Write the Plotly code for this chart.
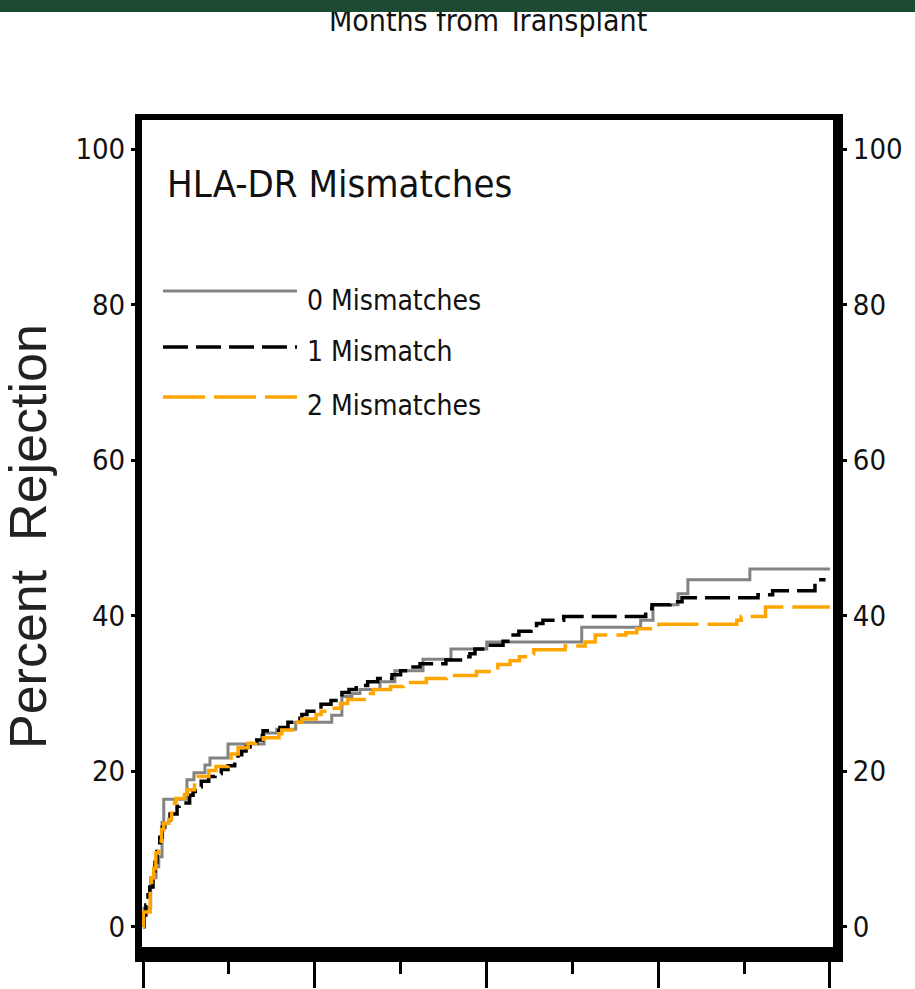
import plotly.graph_objects as go

# ---------------- data ----------------
months_0 = [0, 0.07, 0.54, 0.91, 1.1, 1.33, 1.45, 3.07, 3.56, 4.33, 4.68, 5.94, 8.46, 9.35, 10.67,
            13.19, 13.9, 14.6, 15.16, 16.56, 17.6, 19.57, 21.52, 24.02, 30.66, 34.78, 35.64, 37.39,
            38.08, 42.41, 48.0]
pct_0 = [0, 2.4, 6.3, 7.7, 9.0, 13.4, 16.4, 18.9, 19.8, 20.8, 21.7, 23.5, 24.9, 25.4, 26.3,
         27.2, 29.6, 30.0, 30.5, 31.5, 32.9, 34.4, 35.7, 36.6, 38.5, 39.4, 41.4, 42.8,
         44.6, 46.0, 46.0]

months_1 = [0, 0.07, 0.2, 0.35, 0.47, 0.7, 0.84, 0.98, 1.17, 1.35, 1.52, 1.89, 2.38, 2.52, 3.26,
            3.5, 3.65, 4.07, 4.59, 5.03, 5.47, 5.94, 6.41, 6.64, 6.9, 7.2, 7.48, 7.95, 8.34, 8.39,
            9.57, 10.13, 10.97, 11.1, 11.46, 12.44, 13.14, 13.9, 14.4, 14.9, 15.7, 16.4, 17.4, 18.0,
            18.7, 19.36, 21.17, 22.36, 22.85, 23.2, 24.1, 25.16, 25.65, 26.27, 27.11, 27.5, 27.95,
            29.4, 35.13, 35.57, 36.83, 37.67, 42.98, 44.0, 46.96, 47.7]
pct_1 = [0, 1.5, 2.8, 4.1, 5.1, 6.3, 8.3, 10.1, 11.5, 12.8, 13.3, 14.5, 15.5, 15.9, 16.9,
         17.4, 18.0, 18.7, 19.3, 19.7, 20.2, 20.7, 21.4, 22.1, 22.6, 23.1, 23.6, 24.0, 24.6, 25.2,
         25.6, 26.3, 26.8, 27.3, 27.7, 28.6, 29.1, 30.1, 30.5, 31.0, 31.5, 31.9, 32.4, 32.9,
         33.4, 33.8, 34.3, 34.7, 35.1, 35.7, 36.2, 36.7, 37.5, 38.0, 38.5, 39.0, 39.4,
         39.9, 40.9, 41.4, 41.8, 42.3, 42.7, 43.2, 44.6, 44.6]

months_2 = [0, 0.03, 0.5, 0.6, 0.75, 0.9, 1.1, 1.3, 1.45, 1.8, 2.0, 2.2, 2.3, 2.9, 3.1, 3.6, 3.85,
            4.6, 5.1, 5.95, 6.15, 6.65, 7.35, 7.9, 8.4, 9.5, 9.7, 10.8, 11.1, 12.1, 12.45, 13.15,
            13.8, 14.3, 15.6, 16.1, 17.3, 18.2, 19.8, 21.2, 23.3, 24.8, 25.65, 26.3, 27.0, 27.3,
            29.5, 30.9, 31.6, 33.75, 34.5, 36.05, 41.5, 41.8, 43.5, 48.0]
pct_2 = [0, 1.9, 5.0, 6.3, 7.5, 9.5, 11.0, 12.5, 13.3, 13.8, 14.9, 15.9, 16.5, 17.0, 17.6, 18.9, 19.3,
         20.1, 20.6, 21.4, 22.2, 23.0, 23.6, 24.1, 24.3, 24.8, 25.3, 26.3, 26.7, 27.3, 27.7, 28.1,
         28.7, 29.2, 30.0, 30.5, 30.9, 31.4, 31.9, 32.3, 32.8, 33.7, 34.2, 34.7, 35.1, 35.6,
         36.1, 36.6, 37.5, 37.8, 38.3, 38.9, 39.4, 39.9, 41.1, 41.1]

series_names = ["0 Mismatches", "1 Mismatch", "2 Mismatches"]
y_ticks = [0, 20, 40, 60, 80, 100]
x_major = [0, 12, 24, 36, 48]
x_minor = [6, 18, 30, 42]

# ---------------- styling ----------------
NARROW = "Liberation Sans Narrow, Arial Narrow, DejaVu Sans Condensed, Liberation Sans, sans-serif"
REG = "Liberation Sans, Arial, sans-serif"
colors = ["#838383", "#000000", "#FFA500"]
dashes = ["solid", "25px,8px", "42px,9px"]
widths = [3, 3.5, 3.5]

W, H = 915, 989
L, R, T, B = 142, 833, 120, 947   # inner plot area in pixels
PW, PH = R - L, B - T


def px(x):
    return (x - L) / PW


def py(y):
    return (B - y) / PH


fig = go.Figure()
for xs, ys, c, d, w, n in zip([months_0, months_1, months_2], [pct_0, pct_1, pct_2],
                              colors, dashes, widths, series_names):
    fig.add_trace(go.Scatter(x=xs, y=ys, mode="lines", line=dict(color=c, dash=d, width=w, shape="hv"),
                             name=n, showlegend=False, hoverinfo="skip"))

# placeholder so the right axis is drawn
fig.add_trace(go.Scatter(x=[months_0[0]], y=[pct_0[0]], yaxis="y2", mode="markers",
                         marker=dict(opacity=0), showlegend=False, hoverinfo="skip"))

shapes = []
# thick frame
for (x0, x1, y0, y1) in [(135, 142, 114, 962), (135, 843, 114, 120), (833, 843, 114, 962), (135, 843, 947, 962)]:
    shapes.append(dict(type="rect", xref="paper", yref="paper", x0=px(x0), x1=px(x1), y0=py(y1), y1=py(y0),
                       fillcolor="black", line=dict(width=0), layer="above"))

# legend samples
leg_y = [81.74, 74.54, 68.11]
leg_text_y = [80.58, 73.98, 66.98]
for c, d, w, yy in zip(colors, dashes, widths, leg_y):
    shapes.append(dict(type="line", xref="x", yref="y", x0=1.4, x1=10.76, y0=yy, y1=yy,
                       line=dict(color=c, dash=d, width=w)))

annotations = []
annotations.append(dict(text="HLA-DR Mismatches", x=1.54, y=95.56, xref="x", yref="y", xanchor="left",
                        yanchor="middle", showarrow=False, font=dict(family=NARROW, size=38, color="#111")))
for n, yy in zip(series_names, leg_text_y):
    annotations.append(dict(text=n, x=11.32, y=yy, xref="x", yref="y", xanchor="left", yanchor="middle",
                            showarrow=False, font=dict(family=NARROW, size=28, color="#111")))
annotations.append(dict(text="Percent\u00a0\u00a0Rejection", textangle=-90, x=px(28), y=py(537),
                        xref="paper", yref="paper", xanchor="center", yanchor="middle", showarrow=False,
                        font=dict(family=REG, size=52, color="#222")))
# clipped axis title from the slide above
annotations.append(dict(text="Months from Transplant", x=px(487.5), y=py(40), xref="paper", yref="paper",
                        xanchor="center", yanchor="bottom", showarrow=False,
                        font=dict(family=NARROW, size=30, color="#111")))
# green band at the very top (drawn over the clipped title)
annotations.append(dict(text=" ", x=px(0), y=py(0), xref="paper", yref="paper", xanchor="left", yanchor="top",
                        width=W, height=12, bgcolor="#1d4a32", borderpad=0, borderwidth=0, showarrow=False,
                        font=dict(size=1)))

yaxis_common = dict(range=[-2.61, 103.73], autorange=False, showgrid=False, zeroline=False, showline=False,
                    tickvals=y_ticks, ticks="outside", tickwidth=3, tickcolor="black",
                    tickfont=dict(family=NARROW, size=29, color="#111"), automargin=False, fixedrange=True)

fig.update_layout(
    template="none",
    width=W, height=H,
    margin=dict(l=L, r=W - R, t=T, b=H - B, pad=0),
    paper_bgcolor="white", plot_bgcolor="white",
    font=dict(family=NARROW),
    xaxis=dict(range=[-0.07, 48.22], autorange=False, showgrid=False, zeroline=False, showline=False,
               tickvals=x_major, ticks="outside", ticklen=40, tickwidth=3, tickcolor="black",
               showticklabels=False, automargin=False,
               minor=dict(tickvals=x_minor, ticks="outside", ticklen=26, tickwidth=3, tickcolor="black",
                          showgrid=False)),
    yaxis=dict(**yaxis_common, ticklen=10, side="left"),
    yaxis2=dict(**yaxis_common, ticklen=13, side="right", overlaying="y", anchor="x"),
    shapes=shapes,
    annotations=annotations,
    showlegend=False,
)

fig.write_html("out.html")
